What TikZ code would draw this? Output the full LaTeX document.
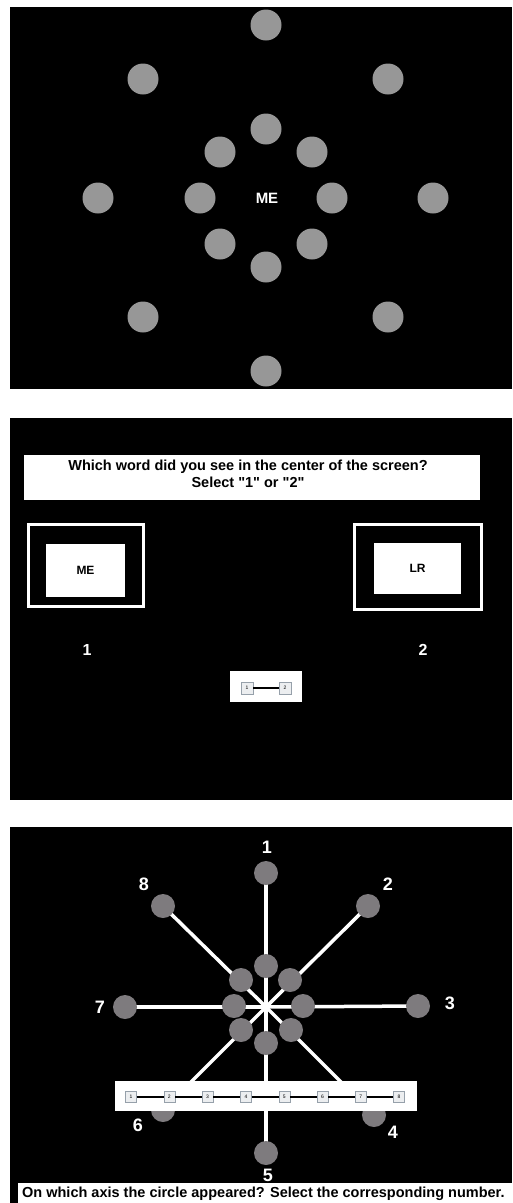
\documentclass[tikz,border=0pt]{standalone}
\usepackage{fontspec}
\newfontfamily\screenfont{Liberation Sans}
\usetikzlibrary{positioning, calc}
\definecolor{dotgray}{RGB}{151, 151, 151}
\definecolor{axisgray}{RGB}{126, 123, 126}
\definecolor{keyedge}{RGB}{150, 160, 170}
\definecolor{keyfill}{RGB}{236, 238, 240}
\pgfdeclarelayer{screens}
\pgfdeclarelayer{spokes}
\pgfsetlayers{screens,spokes,main}
\tikzstyle{dot}      = [circle, fill=dotgray, minimum size=31pt, inner sep=0pt]
\tikzstyle{axisdot}  = [circle, fill=axisgray, minimum size=24pt, inner sep=0pt]
\tikzstyle{whitebox} = [rectangle, fill=white, inner sep=0pt]
\tikzstyle{frame}    = [rectangle, draw=white, line width=3pt, inner sep=0pt]
\tikzstyle{keybox}   = [rectangle, draw=keyedge, fill=keyfill, minimum size=11pt, inner sep=0pt,
                        font=\screenfont\fontsize{5}{5}\selectfont]
\tikzstyle{axisnum}  = [text=white, font=\screenfont\bfseries\fontsize{18}{18}\selectfont]
\tikzstyle{spoke}    = [white, line width=3.5pt]

\begin{document}
\begin{tikzpicture}[x=1pt, y=-1pt, every node/.style={font=\screenfont\bfseries}]
  \useasboundingbox (0,0) rectangle (512,1203);
  \begin{pgfonlayer}{screens}
    \fill[black] (10,7)   rectangle (512,389);
    \fill[black] (10,418) rectangle (512,800);
    \fill[black] (10,827) rectangle (512,1203);
  \end{pgfonlayer}

  % Screen 1: word and circles
  \node (word) [text=white, font=\screenfont\bfseries\fontsize{15}{15}\selectfont] at (267,198) {ME};
  \foreach \n/\px/\py in {o1/266/25, o2/388/79, o3/433/198, o4/388/317,
                          o5/266/371, o6/143/317, o7/98/198, o8/143/79,
                          i1/266/129, i2/312/152, i3/332/198, i4/312/244,
                          i5/266/267, i6/220/244, i7/200/198, i8/220/152}
    \node (\n) [dot] at (\px,\py) {};

  % Screen 2: word choice
  \node (banner)   [whitebox, minimum width=456pt, minimum height=45pt] at (252,477.5) {};
  \node (question) [align=center, inner sep=0pt, font=\screenfont\bfseries\fontsize{14.5}{17}\selectfont]
                   at (248,474) {Which word did you see in the center of the screen?\\Select "1" or "2"};

  \node (frameL) [frame, minimum width=115pt, minimum height=82pt] at (86,565.5) {};
  \node (wordL)  [whitebox, minimum width=79pt, minimum height=53pt,
                  font=\screenfont\bfseries\fontsize{12}{12}\selectfont] at (85.5,570.5) {ME};
  \node (frameR) [frame, minimum width=127pt, minimum height=85pt] at (418,567) {};
  \node (wordR)  [whitebox, minimum width=87pt, minimum height=51pt,
                  font=\screenfont\bfseries\fontsize{12}{12}\selectfont] at (417.5,568.5) {LR};

  \node (choice1) [text=white, font=\screenfont\bfseries\fontsize{16}{16}\selectfont] at (87,650) {1};
  \node (choice2) [text=white, font=\screenfont\bfseries\fontsize{16}{16}\selectfont] at (423,650) {2};

  \node (pad)  [whitebox, minimum width=72pt, minimum height=31pt] at (266,686.5) {};
  \node (key1) [keybox, minimum size=12pt] at (247,688) {1};
  \node (key2) [keybox, minimum size=12pt] at (285,688) {2};
  \draw [black, line width=1.3pt] (key1) -- (key2);

  % Screen 3: axes
  \coordinate (hub) at (266,1007);
  \foreach \n/\px/\py in {1/266/873, 2/368/906, 3/418/1006, 4/374/1115,
                          5/266/1153, 6/163/1110, 7/125/1007, 8/163/906}
    \node (a\n) [axisdot] at (\px,\py) {};
  \foreach \n/\px/\py in {1/266/966, 2/290/980, 3/303/1006, 4/291/1030,
                          5/266/1043, 6/241/1030, 7/234/1006, 8/241/980}
    \node (b\n) [axisdot] at (\px,\py) {};
  \begin{pgfonlayer}{spokes}
    \foreach \n in {1,...,8}
      \draw [spoke] (hub) -- (a\n.center);
    \fill[white] (hub) circle (4);
  \end{pgfonlayer}

  \foreach \n/\px/\py in {1/267/847, 2/388/884, 3/450/1003, 4/393/1132,
                          5/268/1175, 6/138/1125, 7/100/1007, 8/144/884}
    \node (n\n) [axisnum] at (\px,\py) {\n};

  \node (bar) [whitebox, minimum width=302pt, minimum height=30pt] at (266,1096) {};
  \foreach \n in {1,...,8}
    \node (k\n) [keybox] at ({131+38.3*(\n-1)},1097) {\n};
  \foreach \a/\b in {1/2, 2/3, 3/4, 4/5, 5/6, 6/7, 7/8}
    \draw [black, line width=1.5pt] (k\a) -- (k\b);

  \node (prompt) [whitebox, minimum width=494pt, minimum height=20pt] at (265,1193) {};
  \node (promptxt) [anchor=west, inner sep=0pt, font=\screenfont\bfseries\fontsize{14.5}{15}\selectfont]
                   at (22,1193.5) {On which axis the circle appeared? Select the corresponding number.};
\end{tikzpicture}
\end{document}
